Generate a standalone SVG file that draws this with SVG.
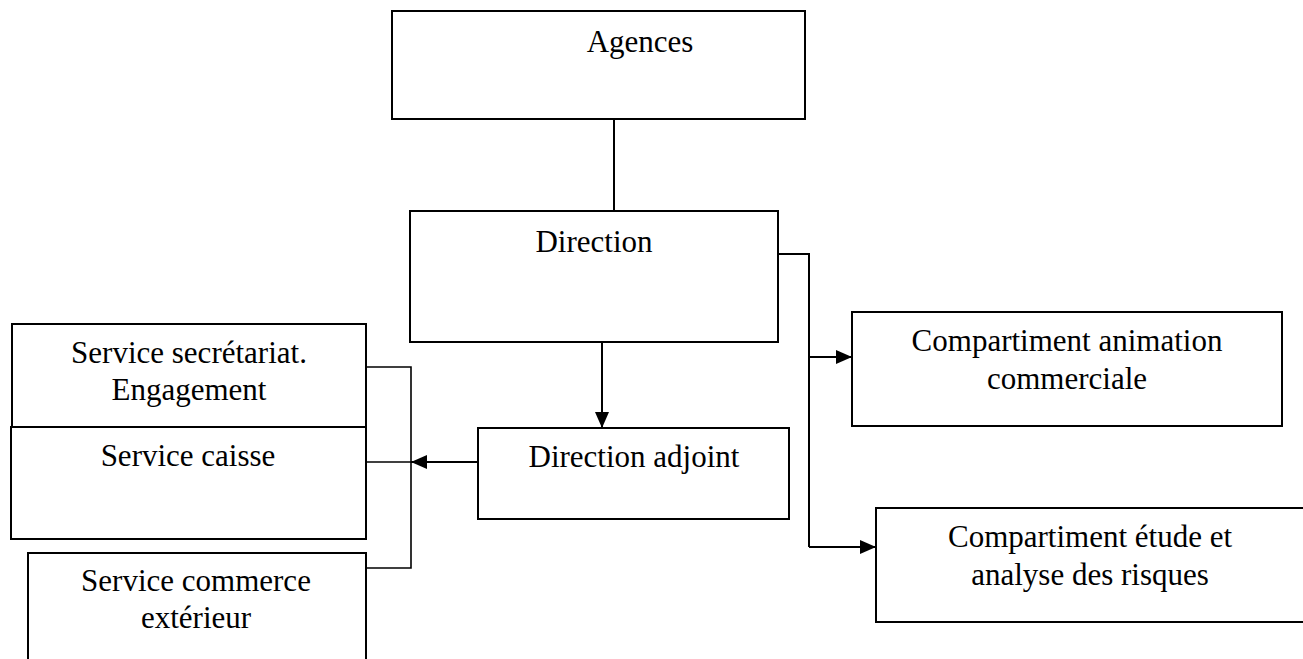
<svg xmlns="http://www.w3.org/2000/svg" width="1303" height="659" viewBox="0 0 1303 659">
  <style>
    .box { fill: #ffffff; stroke: #000000; stroke-width: 2; }
    .lbl { font-family: "Liberation Serif", "Times New Roman", serif; font-size: 31px; fill: #000000; text-anchor: middle; }
    .wire { fill: none; stroke: #000000; stroke-width: 2; }
    .thin { fill: none; stroke: #000000; stroke-width: 1.6; }
  </style>
  <defs>
    <marker id="arrow" markerUnits="userSpaceOnUse" markerWidth="16" markerHeight="14" refX="16" refY="7" orient="auto">
      <path d="M0,0 L16,7 L0,14 z" fill="#000000"/>
    </marker>
  </defs>
  <rect width="1303" height="659" fill="#ffffff"/>

  <g id="connectors">
    <!-- Agences to Direction -->
    <line class="wire" x1="614" y1="119" x2="614" y2="211"/>
    <!-- Direction to Direction adjoint -->
    <line class="wire" x1="602" y1="342" x2="602" y2="428" marker-end="url(#arrow)"/>
    <!-- Direction to the two compartments -->
    <polyline class="wire" points="778,254 809,254 809,547"/>
    <line class="wire" x1="809" y1="357" x2="852" y2="357" marker-end="url(#arrow)"/>
    <line class="wire" x1="809" y1="547" x2="876" y2="547" marker-end="url(#arrow)"/>
    <!-- Direction adjoint to the services -->
    <line class="wire" x1="478" y1="462" x2="411" y2="462" marker-end="url(#arrow)"/>
    <polyline class="thin" points="366,367 411,367 411,568 366,568"/>
    <line class="thin" x1="366" y1="462" x2="411" y2="462"/>
  </g>

  <g id="agences">
    <rect class="box" x="392" y="11" width="413" height="108"/>
    <text class="lbl" x="640" y="52">Agences</text>
  </g>

  <g id="direction">
    <rect class="box" x="410" y="211" width="368" height="131"/>
    <text class="lbl" x="594" y="252">Direction</text>
  </g>

  <g id="direction-adjoint">
    <rect class="box" x="478" y="428" width="311" height="91"/>
    <text class="lbl" x="634" y="467">Direction adjoint</text>
  </g>

  <g id="compartiment-animation">
    <rect class="box" x="852" y="312" width="430" height="114"/>
    <text class="lbl" x="1067" y="351">Compartiment animation</text>
    <text class="lbl" x="1067" y="389">commerciale</text>
  </g>

  <g id="compartiment-etude">
    <rect class="box" x="876" y="508" width="440" height="114"/>
    <text class="lbl" x="1090" y="547">Compartiment étude et</text>
    <text class="lbl" x="1090" y="585">analyse des risques</text>
  </g>

  <g id="service-secretariat">
    <rect class="box" x="12" y="324" width="354" height="103"/>
    <text class="lbl" x="189" y="363">Service secrétariat.</text>
    <text class="lbl" x="189" y="400">Engagement</text>
  </g>

  <g id="service-caisse">
    <rect class="box" x="11" y="427" width="355" height="112"/>
    <text class="lbl" x="188" y="466">Service caisse</text>
  </g>

  <g id="service-commerce">
    <rect class="box" x="28" y="553" width="338" height="115"/>
    <text class="lbl" x="196" y="591">Service commerce</text>
    <text class="lbl" x="196" y="628">extérieur</text>
  </g>
</svg>
